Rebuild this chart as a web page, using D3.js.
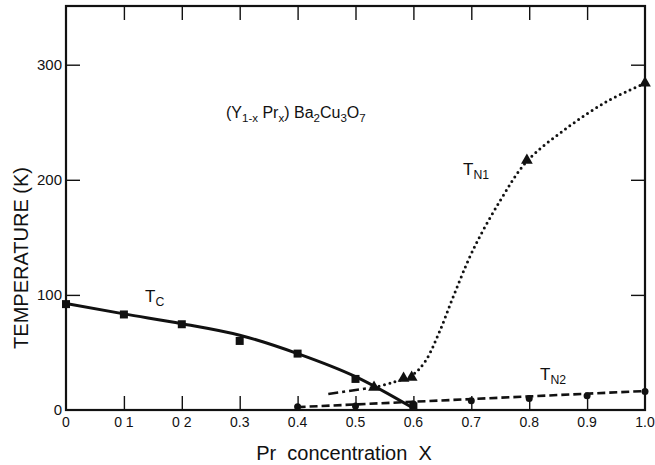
<!DOCTYPE html>
<html>
<head>
<meta charset="utf-8">
<script src="https://cdn.jsdelivr.net/npm/d3@7"></script>
<style>
  body { margin: 0; background: #fff; }
  text { font-family: "Liberation Sans", Arial, Helvetica, sans-serif; fill: #111; }
</style>
</head>
<body>
<div id="chart"></div>
<script>
// values
var xTicks = [0, 0.1, 0.2, 0.3, 0.4, 0.5, 0.6, 0.7, 0.8, 0.9, 1.0]
var xTickLabels = ["0", "0 1", "0 2", "0.3", "0.4", "0.5", "0.6", "0.7", "0.8", "0.9", "1.0"]
var yTicks = [0, 100, 200, 300]

// Tc: measured squares and the solid guide line
var tcX = [0, 0.1, 0.2, 0.3, 0.4, 0.5, 0.6]
var tcPoints = [92, 83, 74.5, 60, 49, 27, 3]
var tcLine = [92.5, 83.5, 75, 65, 49, 29, 1.5]

// TN1: triangles and the dotted guide curve
var tn1X = [0.532, 0.583, 0.597, 0.796, 1.0]
var tn1Points = [19.7, 27.5, 28.4, 217, 284]
var tn1CurveX = [0.532, 0.565, 0.597, 0.62, 0.645, 0.67, 0.703, 0.75, 0.796, 0.865, 0.934, 1.0]
var tn1CurveY = [19.7, 24, 30, 42, 68, 100, 139, 182, 216, 245, 268, 284]

// dash-dot extension below TN1
var dashDotX = [0.453, 0.532]
var dashDotY = [13.9, 19.7]

// TN2: circles and dashed line
var tn2X = [0.4, 0.5, 0.6, 0.7, 0.8, 0.9, 1.0]
var tn2Points = [2.8, 3.5, 5.2, 8, 10, 12.4, 16]
var tn2LineX = [0.4, 1.0]
var tn2LineY = [2.5, 16.5]

var width = 655, height = 465
var svg = d3.select('#chart').append('svg')
    .attr('width', width)
    .attr('height', height)

var plotL = 66, plotR = 645, plotT = 6, plotB = 410
var x = d3.scaleLinear().domain([0, 1]).range([plotL, plotR])
var y = d3.scaleLinear().domain([0, 351]).range([plotB, plotT])

// frame
svg.append('rect')
    .attr('x', plotL).attr('y', plotT)
    .attr('width', plotR - plotL).attr('height', plotB - plotT)
    .attr('fill', 'none').attr('stroke', '#111').attr('stroke-width', 2.2)

// inward ticks on all sides
var tickLen = 14
var innerX = xTicks.filter(function(d) { return d > 0 && d < 1 })
var innerY = yTicks.filter(function(d) { return d > 0 })

svg.append('g')
    .attr('transform', 'translate(0,' + plotB + ')')
    .call(d3.axisTop(x).tickValues(innerX).tickSize(tickLen).tickFormat(''))
    .call(function(g) { g.select('.domain').remove() })
svg.append('g')
    .attr('transform', 'translate(0,' + plotT + ')')
    .call(d3.axisBottom(x).tickValues(innerX).tickSize(tickLen).tickFormat(''))
    .call(function(g) { g.select('.domain').remove() })
svg.append('g')
    .attr('transform', 'translate(' + plotL + ',0)')
    .call(d3.axisRight(y).tickValues(innerY).tickSize(tickLen).tickFormat(''))
    .call(function(g) { g.select('.domain').remove() })
svg.append('g')
    .attr('transform', 'translate(' + plotR + ',0)')
    .call(d3.axisLeft(y).tickValues(innerY).tickSize(tickLen).tickFormat(''))
    .call(function(g) { g.select('.domain').remove() })
svg.selectAll('.tick line').attr('stroke', '#111').attr('stroke-width', 1.4)

// tick labels
svg.append('g').selectAll('text')
    .data(xTicks)
    .enter().append('text')
    .attr('x', function(d) { return x(d) })
    .attr('y', 427)
    .attr('text-anchor', 'middle')
    .attr('font-size', 14)
    .text(function(d, i) { return xTickLabels[i] })

svg.append('g').selectAll('text')
    .data(yTicks)
    .enter().append('text')
    .attr('x', 62)
    .attr('y', function(d) { return y(d) + 5 })
    .attr('text-anchor', 'end')
    .attr('font-size', 15)
    .text(function(d) { return d })

// axis titles
svg.append('text')
    .attr('x', 344).attr('y', 460)
    .attr('text-anchor', 'middle')
    .attr('font-size', 20)
    .attr('xml:space', 'preserve')
    .text('Pr  concentration  X')

svg.append('text')
    .attr('transform', 'translate(28,258) rotate(-90)')
    .attr('text-anchor', 'middle')
    .attr('font-size', 20)
    .text('TEMPERATURE (K)')

// lines
var line = d3.line()
    .x(function(d) { return x(d[0]) })
    .y(function(d) { return y(d[1]) })
    .curve(d3.curveMonotoneX)

var smooth = d3.line()
    .x(function(d) { return x(d[0]) })
    .y(function(d) { return y(d[1]) })
    .curve(d3.curveCatmullRom.alpha(0.5))

svg.append('path')
    .datum(d3.zip(tcX, tcLine))
    .attr('fill', 'none').attr('stroke', '#111').attr('stroke-width', 3)
    .attr('d', line)

svg.append('path')
    .datum(d3.zip(tn1CurveX, tn1CurveY))
    .attr('fill', 'none').attr('stroke', '#111').attr('stroke-width', 3)
    .attr('stroke-linecap', 'round')
    .attr('stroke-dasharray', '0 5.4')
    .attr('d', smooth)

svg.append('path')
    .datum(d3.zip(dashDotX, dashDotY))
    .attr('fill', 'none').attr('stroke', '#111').attr('stroke-width', 2.6)
    .attr('stroke-dasharray', '10 4 3 4')
    .attr('d', line)

svg.append('path')
    .datum(d3.zip(tn2LineX, tn2LineY))
    .attr('fill', 'none').attr('stroke', '#111').attr('stroke-width', 2.6)
    .attr('stroke-dasharray', '8 4')
    .attr('d', line)

// markers
svg.append('g').selectAll('rect')
    .data(d3.zip(tcX, tcPoints))
    .enter().append('rect')
    .attr('x', function(d) { return x(d[0]) - 4 })
    .attr('y', function(d) { return y(d[1]) - 4 })
    .attr('width', 8).attr('height', 8)
    .attr('fill', '#111')

svg.append('g').selectAll('path')
    .data(d3.zip(tn1X, tn1Points))
    .enter().append('path')
    .attr('transform', function(d) { return 'translate(' + x(d[0]) + ',' + y(d[1]) + ')' })
    .attr('d', d3.symbol().type(d3.symbolTriangle).size(60))
    .attr('fill', '#111')

svg.append('g').selectAll('circle')
    .data(d3.zip(tn2X, tn2Points))
    .enter().append('circle')
    .attr('cx', function(d) { return x(d[0]) })
    .attr('cy', function(d) { return y(d[1]) })
    .attr('r', 3.5)
    .attr('fill', '#111')

// labels with subscripts
function subLabel(xp, yp, parts, size) {
    var t = svg.append('text').attr('x', xp).attr('y', yp).attr('font-size', size)
    var shift = 0
    parts.forEach(function(p) {
        var s = t.append('tspan').text(p[0])
        var target = p[1] ? 4 : 0
        if (p[1]) s.attr('font-size', size * 0.72)
        s.attr('dy', target - shift)
        shift = target
    })
}

subLabel(145, 302, [['T', false], ['C', true]], 17)
subLabel(463, 175, [['T', false], ['N1', true]], 17)
subLabel(540, 380, [['T', false], ['N2', true]], 17)
subLabel(226, 118, [['(Y', false], ['1-x', true], [' Pr', false], ['x', true], [') Ba', false], ['2', true], ['Cu', false], ['3', true], ['O', false], ['7', true]], 16)
</script>
</body>
</html>
